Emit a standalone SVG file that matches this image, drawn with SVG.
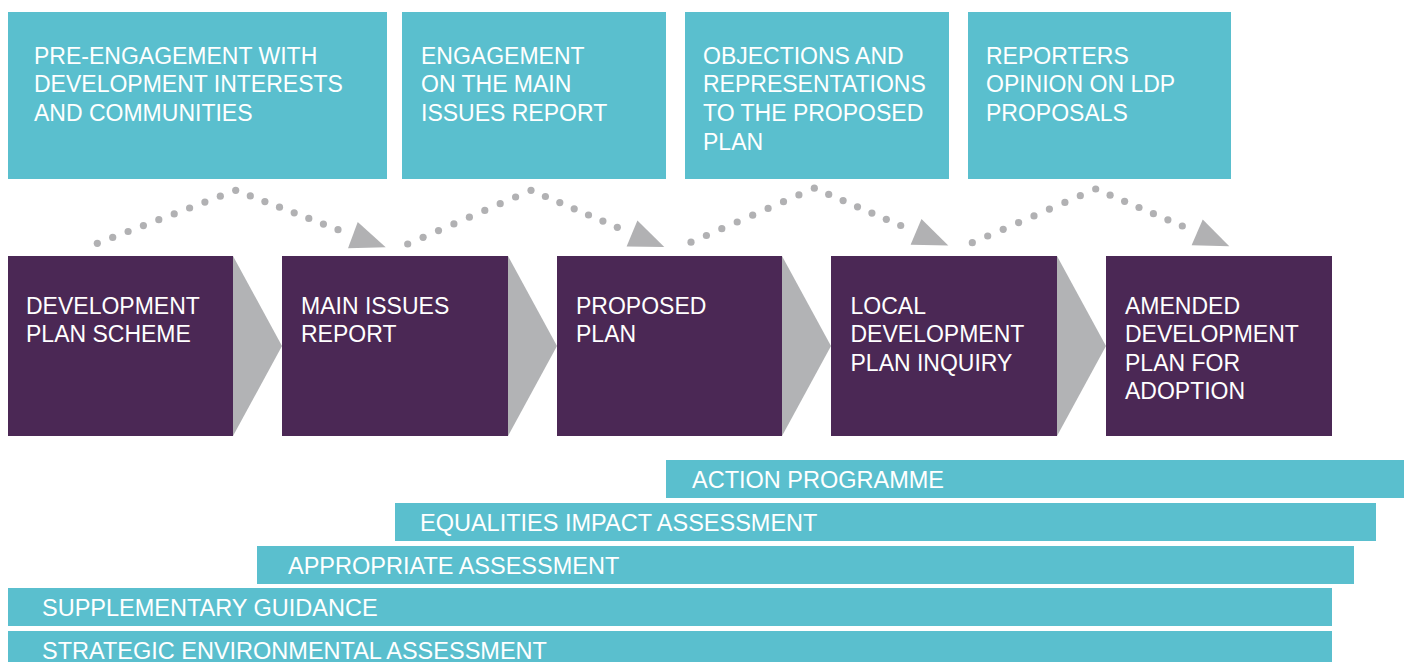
<svg xmlns="http://www.w3.org/2000/svg" xmlns:xlink="http://www.w3.org/1999/xlink" width="1410" height="662" viewBox="0 0 1410 662">
<style>
  .teal { fill: #5abfce; }
  .purple { fill: #4b2855; }
  .chev { fill: #b2b3b5; }
  .dot { fill: #b1b1b3; }
  .head { fill: #b1b1b3; }
  text { font-family: "Liberation Sans", Arial, sans-serif; font-size: 23px; fill: #ffffff; }
  .bar text { font-size: 23.5px; }
</style>
<defs>
  <polygon id="ah" class="head" points="0,0 -35,-14 -35,14"/>
</defs>
<rect width="1410" height="662" fill="#ffffff"/>

<!-- Top stage boxes -->
<g id="pre-engagement">
  <rect class="teal" x="8" y="12" width="379" height="167"/>
  <text x="34" y="63.5">PRE-ENGAGEMENT WITH</text>
  <text x="34" y="92.2">DEVELOPMENT INTERESTS</text>
  <text x="34" y="120.9">AND COMMUNITIES</text>
</g>
<g id="engagement-mir">
  <rect class="teal" x="402" y="12" width="264" height="167"/>
  <text x="421" y="63.5">ENGAGEMENT</text>
  <text x="421" y="92.2">ON THE MAIN</text>
  <text x="421" y="120.9">ISSUES REPORT</text>
</g>
<g id="objections">
  <rect class="teal" x="685" y="12" width="264" height="167"/>
  <text x="703" y="63.5">OBJECTIONS AND</text>
  <text x="703" y="92.2">REPRESENTATIONS</text>
  <text x="703" y="120.9">TO THE PROPOSED</text>
  <text x="703" y="149.6">PLAN</text>
</g>
<g id="reporters-opinion">
  <rect class="teal" x="968" y="12" width="263" height="167"/>
  <text x="986" y="63.5">REPORTERS</text>
  <text x="986" y="92.2">OPINION ON LDP</text>
  <text x="986" y="120.9">PROPOSALS</text>
</g>

<!-- Main process boxes -->
<g id="development-plan-scheme">
  <rect class="purple" x="8" y="256" width="225" height="180"/>
  <text x="26" y="313.5">DEVELOPMENT</text>
  <text x="26" y="342.2">PLAN SCHEME</text>
</g>
<g id="main-issues-report">
  <rect class="purple" x="282" y="256" width="226" height="180"/>
  <text x="301" y="313.5">MAIN ISSUES</text>
  <text x="301" y="342.2">REPORT</text>
</g>
<g id="proposed-plan">
  <rect class="purple" x="557" y="256" width="225" height="180"/>
  <text x="576" y="313.5">PROPOSED</text>
  <text x="576" y="342.2">PLAN</text>
</g>
<g id="ldp-inquiry">
  <rect class="purple" x="831" y="256" width="226" height="180"/>
  <text x="850.5" y="313.5">LOCAL</text>
  <text x="850.5" y="342.2">DEVELOPMENT</text>
  <text x="850.5" y="370.6">PLAN INQUIRY</text>
</g>
<g id="amended-plan">
  <rect class="purple" x="1106" y="256" width="226" height="180"/>
  <text x="1125" y="313.5">AMENDED</text>
  <text x="1125" y="342.2">DEVELOPMENT</text>
  <text x="1125" y="370.6">PLAN FOR</text>
  <text x="1125" y="399">ADOPTION</text>
</g>

<!-- Parallel workstreams -->
<g id="action-programme" class="bar">
  <rect class="teal" x="666" y="460" width="738" height="38"/>
  <text x="692" y="487.7">ACTION PROGRAMME</text>
</g>
<g id="equalities-impact-assessment" class="bar">
  <rect class="teal" x="395" y="503" width="981" height="38"/>
  <text x="420" y="530.7">EQUALITIES IMPACT ASSESSMENT</text>
</g>
<g id="appropriate-assessment" class="bar">
  <rect class="teal" x="257" y="546" width="1097" height="38"/>
  <text x="288" y="573.7">APPROPRIATE ASSESSMENT</text>
</g>
<g id="supplementary-guidance" class="bar">
  <rect class="teal" x="8" y="588" width="1324" height="38"/>
  <text x="42" y="615.7">SUPPLEMENTARY GUIDANCE</text>
</g>
<g id="strategic-environmental-assessment" class="bar">
  <rect class="teal" x="8" y="631" width="1324" height="38"/>
  <text x="42" y="659.2">STRATEGIC ENVIRONMENTAL ASSESSMENT</text>
</g>

<!-- Connectors -->
<g id="connectors">
  <g id="chevrons">
    <polygon class="chev" points="233,256 282,346 233,436"/>
    <polygon class="chev" points="508,256 557,346 508,436"/>
    <polygon class="chev" points="782,256 831,346 782,436"/>
    <polygon class="chev" points="1057,256 1106,346 1057,436"/>
  </g>
  <g id="arc1">
    <circle class="dot" r="3.6" cx="97.3" cy="243.3"/>
    <circle class="dot" r="3.6" cx="112.7" cy="237.4"/>
    <circle class="dot" r="3.6" cx="128.1" cy="231.5"/>
    <circle class="dot" r="3.6" cx="143.4" cy="225.6"/>
    <circle class="dot" r="3.6" cx="158.8" cy="219.7"/>
    <circle class="dot" r="3.6" cx="174.2" cy="213.9"/>
    <circle class="dot" r="3.6" cx="189.6" cy="208.0"/>
    <circle class="dot" r="3.6" cx="204.9" cy="202.1"/>
    <circle class="dot" r="3.6" cx="220.3" cy="196.2"/>
    <circle class="dot" r="3.6" cx="235.7" cy="190.3"/>
    <circle class="dot" r="3.6" cx="250.3" cy="195.9"/>
    <circle class="dot" r="3.6" cx="264.9" cy="201.6"/>
    <circle class="dot" r="3.6" cx="279.5" cy="207.2"/>
    <circle class="dot" r="3.6" cx="294.2" cy="212.8"/>
    <circle class="dot" r="3.6" cx="308.8" cy="218.4"/>
    <circle class="dot" r="3.6" cx="323.4" cy="224.1"/>
    <circle class="dot" r="3.6" cx="338.0" cy="229.7"/>
    <use xlink:href="#ah" href="#ah" transform="translate(385.7,247.3) rotate(20.3)"/>
  </g>
  <g id="arc2">
    <circle class="dot" r="3.6" cx="407.7" cy="244.0"/>
    <circle class="dot" r="3.6" cx="423.1" cy="237.3"/>
    <circle class="dot" r="3.6" cx="438.5" cy="230.6"/>
    <circle class="dot" r="3.6" cx="453.9" cy="223.9"/>
    <circle class="dot" r="3.6" cx="469.4" cy="217.2"/>
    <circle class="dot" r="3.6" cx="484.8" cy="210.4"/>
    <circle class="dot" r="3.6" cx="500.2" cy="203.7"/>
    <circle class="dot" r="3.6" cx="515.6" cy="197.0"/>
    <circle class="dot" r="3.6" cx="531.0" cy="190.3"/>
    <circle class="dot" r="3.6" cx="545.4" cy="196.5"/>
    <circle class="dot" r="3.6" cx="559.8" cy="202.6"/>
    <circle class="dot" r="3.6" cx="574.2" cy="208.8"/>
    <circle class="dot" r="3.6" cx="588.5" cy="215.0"/>
    <circle class="dot" r="3.6" cx="602.9" cy="221.1"/>
    <circle class="dot" r="3.6" cx="617.3" cy="227.3"/>
    <use xlink:href="#ah" href="#ah" transform="translate(664.3,247) rotate(22.7)"/>
  </g>
  <g id="arc3">
    <circle class="dot" r="3.6" cx="691.0" cy="242.2"/>
    <circle class="dot" r="3.6" cx="706.4" cy="235.5"/>
    <circle class="dot" r="3.6" cx="721.8" cy="228.7"/>
    <circle class="dot" r="3.6" cx="737.2" cy="222.0"/>
    <circle class="dot" r="3.6" cx="752.7" cy="215.2"/>
    <circle class="dot" r="3.6" cx="768.1" cy="208.4"/>
    <circle class="dot" r="3.6" cx="783.5" cy="201.7"/>
    <circle class="dot" r="3.6" cx="798.9" cy="194.9"/>
    <circle class="dot" r="3.6" cx="814.3" cy="188.2"/>
    <circle class="dot" r="3.6" cx="828.7" cy="194.4"/>
    <circle class="dot" r="3.6" cx="843.1" cy="200.6"/>
    <circle class="dot" r="3.6" cx="857.5" cy="206.8"/>
    <circle class="dot" r="3.6" cx="871.9" cy="213.1"/>
    <circle class="dot" r="3.6" cx="886.3" cy="219.3"/>
    <circle class="dot" r="3.6" cx="900.7" cy="225.5"/>
    <use xlink:href="#ah" href="#ah" transform="translate(948.3,245.5) rotate(22.8)"/>
  </g>
  <g id="arc4">
    <circle class="dot" r="3.6" cx="972.3" cy="242.7"/>
    <circle class="dot" r="3.6" cx="987.7" cy="236.0"/>
    <circle class="dot" r="3.6" cx="1003.2" cy="229.3"/>
    <circle class="dot" r="3.6" cx="1018.6" cy="222.6"/>
    <circle class="dot" r="3.6" cx="1034.0" cy="215.9"/>
    <circle class="dot" r="3.6" cx="1049.4" cy="209.1"/>
    <circle class="dot" r="3.6" cx="1064.9" cy="202.4"/>
    <circle class="dot" r="3.6" cx="1080.3" cy="195.7"/>
    <circle class="dot" r="3.6" cx="1095.7" cy="189.0"/>
    <circle class="dot" r="3.6" cx="1110.1" cy="195.2"/>
    <circle class="dot" r="3.6" cx="1124.6" cy="201.3"/>
    <circle class="dot" r="3.6" cx="1139.0" cy="207.5"/>
    <circle class="dot" r="3.6" cx="1153.4" cy="213.7"/>
    <circle class="dot" r="3.6" cx="1167.9" cy="219.8"/>
    <circle class="dot" r="3.6" cx="1182.3" cy="226.0"/>
    <use xlink:href="#ah" href="#ah" transform="translate(1229.3,246.3) rotate(23.4)"/>
  </g>
</g>
</svg>
